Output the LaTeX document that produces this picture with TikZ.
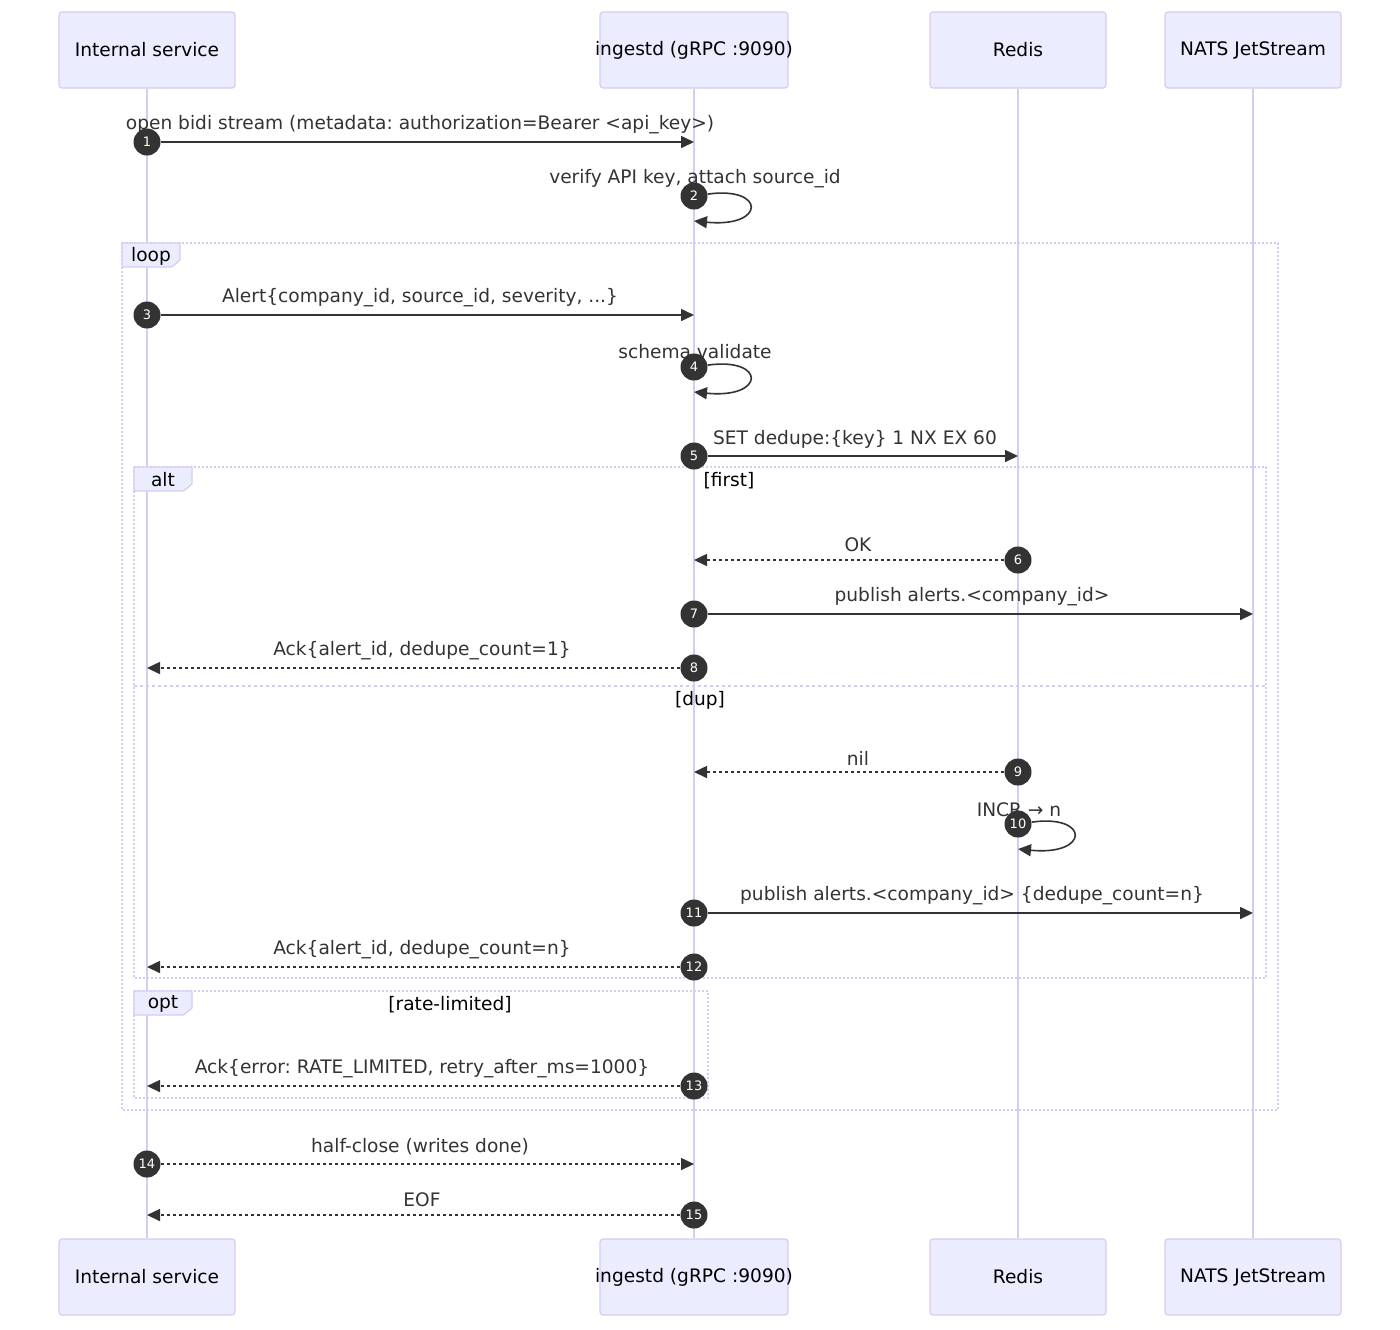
\documentclass[tikz,border=0pt]{standalone}
\usepackage{fontspec}
\setmainfont{DejaVu Sans}
\usepackage{xcolor}
\usetikzlibrary{arrows.meta}
\usetikzlibrary{positioning}
\definecolor{actorfill}{HTML}{ECECFF}
\definecolor{actorline}{HTML}{D6CBF3}
\definecolor{msgcol}{HTML}{333333}
\tikzset{>={Triangle[length=6.5pt,width=6pt]}}
\frenchspacing

\begin{document}
\begin{tikzpicture}
	[x=0.5pt,y=-0.5pt,
	actor/.style={rectangle,rounded corners=1.5pt,draw=actorline,fill=actorfill,line width=0.6pt,minimum width=88pt,minimum height=38pt,inner xsep=-3pt,inner ysep=0pt,font=\fontsize{9.3}{11}\selectfont},
	lifeline/.style={draw=actorline,line width=0.8pt},
	frame/.style={draw=actorline,line width=1pt,dash pattern=on 1pt off 1pt},
	split/.style={draw=actorline,line width=1pt,dash pattern=on 1.5pt off 1.5pt},
	tab/.style={draw=actorline,fill=actorfill,line width=0.6pt},
	tabtext/.style={font=\fontsize{9.3}{11}\selectfont,text=black,inner sep=0pt},
	call/.style={->,draw=msgcol,line width=0.8pt},
	reply/.style={->,draw=msgcol,line width=0.8pt,dash pattern=on 1.5pt off 1.5pt},
	msgtext/.style={font=\fontsize{9.3}{11}\selectfont,text=msgcol,inner sep=0pt,yshift=-1pt},
	seqnum/.style={circle,fill=msgcol,text=white,minimum size=13.5pt,inner sep=0pt,font=\fontsize{6.5}{7}\selectfont}]
	\useasboundingbox (0,0) rectangle (1400,1329);
	% participants, top and bottom
	\node [actor] (svcT) at (147,50) {Internal service};
	\node [actor,minimum width=94pt] (ingT) at (694,50) {ingestd (gRPC :9090)};
	\node [actor] (redT) at (1018,50) {Redis};
	\node [actor] (natT) at (1253,50) {NATS JetStream};
	\node [actor] (svcB) at (147,1277) {Internal service};
	\node [actor,minimum width=94pt] (ingB) at (694,1277) {ingestd (gRPC :9090)};
	\node [actor] (redB) at (1018,1277) {Redis};
	\node [actor] (natB) at (1253,1277) {NATS JetStream};
	\draw [lifeline] (svcT) -- (svcB);
	\draw [lifeline] (ingT) -- (ingB);
	\draw [lifeline] (redT) -- (redB);
	\draw [lifeline] (natT) -- (natB);
	% frames
	\draw [frame] (122,243) rectangle (1278,1110);
	\draw [tab] (122,243) -- (180,243) -- (180,260) -- (171.6,267) -- (122,267) -- cycle;
	\node [tabtext] (loopL) at (151,256) {loop};
	\draw [frame] (134,467) rectangle (1266,978);
	\draw [tab] (134,467) -- (192,467) -- (192,484) -- (183.6,491) -- (134,491) -- cycle;
	\node [tabtext] (altL) at (163,480) {alt};
	\node [tabtext] (firstL) at (729,481) {[first]};
	\draw [split] (134,686) -- (1266,686);
	\node [tabtext] (dupL) at (700,700) {[dup]};
	\draw [frame] (134,991) rectangle (708,1098);
	\draw [tab] (134,991) -- (192,991) -- (192,1008) -- (183.6,1015) -- (134,1015) -- cycle;
	\node [tabtext] (optL) at (163,1004) {opt};
	\node [tabtext] (rateL) at (450,1005) {[rate-limited]};
	% messages
	\node [seqnum] (n1) at (147,142) {1};
	\coordinate (e1) at (694,142);
	\draw [call] (n1) -- (e1);
	\node [msgtext] (t1) at (420,123) {open bidi stream (metadata: authorization=Bearer <api\_key>)};
	\node [seqnum] (n2) at (694,196) {2};
	\coordinate (e2) at (694,221);
	\draw [call] (n2) .. controls (766,186) and (766,228) .. (e2);
	\node [msgtext] (t2) at (695,177) {verify API key, attach source\_id};
	\node [seqnum] (n3) at (147,315) {3};
	\coordinate (e3) at (694,315);
	\draw [call] (n3) -- (e3);
	\node [msgtext] (t3) at (420,296) {Alert\{company\_id, source\_id, severity, ...\}};
	\node [seqnum] (n4) at (694,367) {4};
	\coordinate (e4) at (694,392);
	\draw [call] (n4) .. controls (766,357) and (766,399) .. (e4);
	\node [msgtext] (t4) at (695,350) {schema validate};
	\node [seqnum] (n5) at (694,456) {5};
	\coordinate (e5) at (1018,456);
	\draw [call] (n5) -- (e5);
	\node [msgtext] (t5) at (855,437) {SET dedupe:\{key\} 1 NX EX 60};
	\node [seqnum] (n6) at (1018,560) {6};
	\coordinate (e6) at (694,560);
	\draw [reply] (n6) -- (e6);
	\node [msgtext] (t6) at (858,543) {OK};
	\node [seqnum] (n7) at (694,614) {7};
	\coordinate (e7) at (1253,614);
	\draw [call] (n7) -- (e7);
	\node [msgtext] (t7) at (972,595) {publish alerts.<company\_id>};
	\node [seqnum] (n8) at (694,668) {8};
	\coordinate (e8) at (147,668);
	\draw [reply] (n8) -- (e8);
	\node [msgtext] (t8) at (422,649) {Ack\{alert\_id, dedupe\_count=1\}};
	\node [seqnum] (n9) at (1018,772) {9};
	\coordinate (e9) at (694,772);
	\draw [reply] (n9) -- (e9);
	\node [msgtext] (t9) at (858,756) {nil};
	\node [seqnum] (n10) at (1018,824) {10};
	\coordinate (e10) at (1018,849);
	\draw [call] (n10) .. controls (1090,814) and (1090,856) .. (e10);
	\node [msgtext] (t10) at (1019,808) {INCR → n};
	\node [seqnum] (n11) at (694,913) {11};
	\coordinate (e11) at (1253,913);
	\draw [call] (n11) -- (e11);
	\node [msgtext] (t11) at (972,894) {publish alerts.<company\_id> \{dedupe\_count=n\}};
	\node [seqnum] (n12) at (694,967) {12};
	\coordinate (e12) at (147,967);
	\draw [reply] (n12) -- (e12);
	\node [msgtext] (t12) at (422,948) {Ack\{alert\_id, dedupe\_count=n\}};
	\node [seqnum] (n13) at (694,1086) {13};
	\coordinate (e13) at (147,1086);
	\draw [reply] (n13) -- (e13);
	\node [msgtext] (t13) at (422,1067) {Ack\{error: RATE\_LIMITED, retry\_after\_ms=1000\}};
	\node [seqnum] (n14) at (147,1164) {14};
	\coordinate (e14) at (694,1164);
	\draw [reply] (n14) -- (e14);
	\node [msgtext] (t14) at (420,1145) {half-close (writes done)};
	\node [seqnum] (n15) at (694,1215) {15};
	\coordinate (e15) at (147,1215);
	\draw [reply] (n15) -- (e15);
	\node [msgtext] (t15) at (422,1198) {EOF};
\end{tikzpicture}
\end{document}
